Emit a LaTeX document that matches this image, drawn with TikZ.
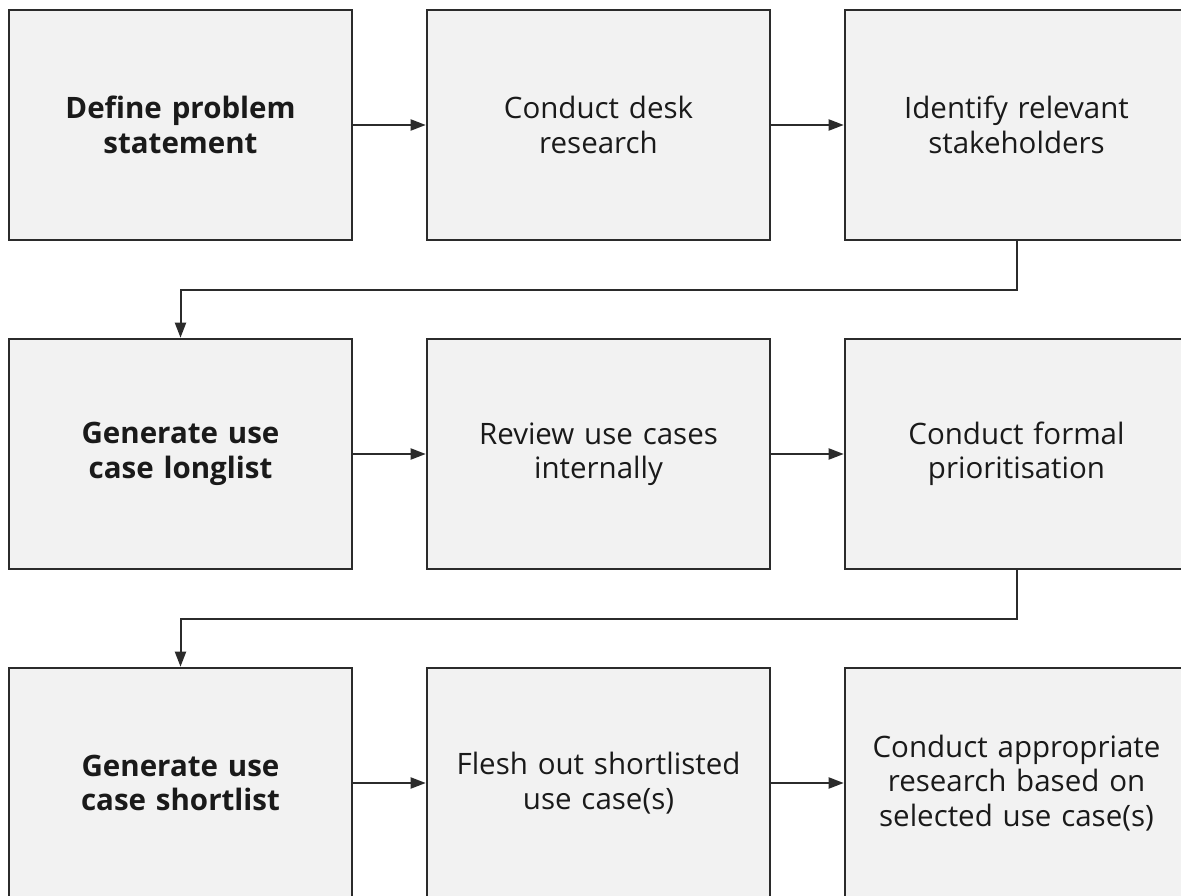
\documentclass[tikz,border=0pt]{standalone}
\usepackage{fontspec}
\setmainfont{Open Sans}
\usetikzlibrary{arrows.meta,calc}
\definecolor{boxfill}{HTML}{F2F2F2}
\definecolor{boxline}{HTML}{2B2B2B}
\definecolor{txt}{HTML}{1A1A1A}
\tikzset{
  stepbox/.style={draw=boxline, fill=boxfill, line width=2.6pt, rectangle,
    minimum width=343pt, minimum height=230pt, inner sep=0pt,
    align=center, text width=335pt, text=txt,
    font=\fontsize{29.5}{34.5}\selectfont},
  boldbox/.style={stepbox, font=\fontsize{29.5}{34.5}\selectfont\bfseries},
  arr/.style={draw=boxline, line width=2pt, -{Triangle[length=15pt,width=11pt]}},
}
\begin{document}
\begin{tikzpicture}[x=1pt,y=-1pt]
\useasboundingbox[fill=white] (0,0) rectangle (1181,896);
\node[boldbox] (a1) at (180.5,125) {Define problem\\statement};
\node[stepbox] (a2) at (598.5,125) {Conduct desk\\research};
\node[stepbox] (a3) at (1016.5,125) {Identify relevant\\stakeholders};
\node[boldbox] (b1) at (180.5,454) {Generate use\\case longlist};
\node[stepbox] (b2) at (598.5,454) {Review use cases\\internally};
\node[stepbox] (b3) at (1016.5,454) {Conduct formal\\prioritisation};
\node[boldbox] (c1) at (180.5,783) {Generate use\\case shortlist};
\node[stepbox] (c2) at (598.5,783) {Flesh out shortlisted\\use case(s)};
\node[stepbox] (c3) at (1016.5,783) {Conduct appropriate\\research based on\\selected use case(s)};
\draw[arr] (a1) -- (a2);
\draw[arr] (a2) -- (a3);
\draw[arr] (b1) -- (b2);
\draw[arr] (b2) -- (b3);
\draw[arr] (c1) -- (c2);
\draw[arr] (c2) -- (c3);
\coordinate (m1) at ($(a3.south)!0.5!(b1.north)$);
\coordinate (m2) at ($(b3.south)!0.5!(c1.north)$);
\draw[arr] (a3.south) -- (a3.south |- m1) -| (b1.north);
\draw[arr] (b3.south) -- (b3.south |- m2) -| (c1.north);
\end{tikzpicture}
\end{document}
